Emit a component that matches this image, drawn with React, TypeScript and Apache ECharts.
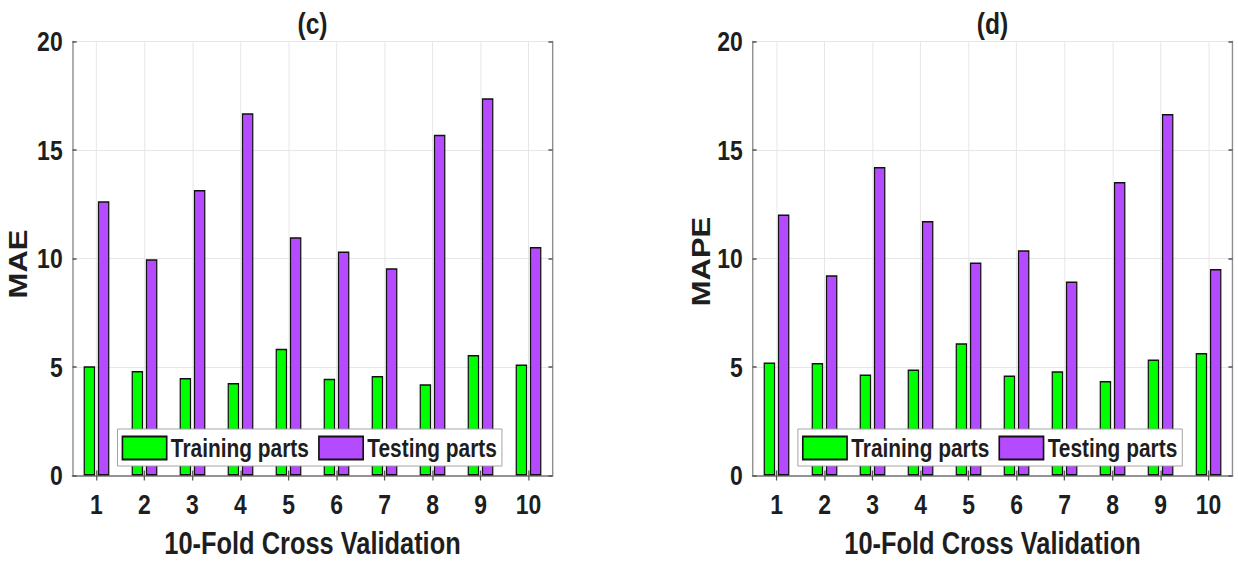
import React, { useEffect, useRef } from 'react';
import * as echarts from 'echarts';

// ---- data ----
const folds = ['1', '2', '3', '4', '5', '6', '7', '8', '9', '10'];
const yTicks = [0, 5, 10, 15, 20];
const seriesNames = ['Training parts', 'Testing parts'];
const panelTitles = ['(c)', '(d)'];
const panelYNames = ['MAE', 'MAPE'];
const xName = '10-Fold Cross Validation';

const maeTraining = [5.04, 4.81, 4.49, 4.26, 5.84, 4.46, 4.58, 4.2, 5.55, 5.12];
const maeTesting = [12.64, 9.97, 13.16, 16.69, 10.98, 10.32, 9.55, 15.7, 17.39, 10.53];
const mapeTraining = [5.21, 5.18, 4.66, 4.89, 6.09, 4.61, 4.8, 4.35, 5.35, 5.64];
const mapeTesting = [12.03, 9.23, 14.22, 11.73, 9.81, 10.38, 8.94, 13.53, 16.66, 9.52];

// ---- layout (the whole picture is rendered wide and squeezed horizontally) ----
const S = 0.82;
const W = Math.round(1238 / S);
const H = 561;
const FONT = '"Liberation Sans", Arial, Helvetica, sans-serif';
const TXT = '#1e1e1e';
const GREEN = '#00ff00';
const PURPLE = '#b44bff';
const FRAME = '#8e8e8e';
const GRIDC = '#e4e4e4';
const TICKC = '#555555';

const gridTop = 41.5;
const gridH = 434;
const gridW = 585.4;
const gridLefts = [88.4, 917.7];
const legendLefts = [143.3, 973];
const yNameGaps = [51, 47];
const yNamePad = [11, 6];

function buildOption() {
  const grids: any[] = [];
  const xAxes: any[] = [];
  const yAxes: any[] = [];
  const series: any[] = [];
  const titles: any[] = [];
  const legends: any[] = [];
  const data = [
    [maeTraining, maeTesting],
    [mapeTraining, mapeTesting],
  ];

  const axisLine = { show: true, lineStyle: { color: FRAME, width: 1.7 } };
  const axisTick = { show: true, inside: true, length: 5, lineStyle: { color: TICKC, width: 1.5 } };

  for (let i = 0; i < 2; i++) {
    grids.push({
      left: gridLefts[i],
      top: gridTop,
      width: gridW,
      height: gridH,
      containLabel: false,
      outerBoundsMode: 'none',
    });
    xAxes.push({
      type: 'category',
      gridIndex: i,
      data: folds,
      position: 'bottom',
      axisLine,
      axisTick: { ...axisTick, alignWithLabel: true },
      axisLabel: { margin: 15, fontSize: 28, fontWeight: 'bold', color: TXT, fontFamily: FONT },
      splitLine: { show: true, alignWithLabel: true, lineStyle: { color: GRIDC, width: 1 } },
      name: xName,
      nameLocation: 'middle',
      nameGap: 52,
      nameTextStyle: { fontSize: 31, fontWeight: 'bold', color: TXT, fontFamily: FONT },
    });
    xAxes.push({
      type: 'category',
      gridIndex: i,
      data: folds,
      position: 'top',
      axisLine,
      axisTick: { ...axisTick, alignWithLabel: true },
      axisLabel: { show: false },
      splitLine: { show: false },
    });
    yAxes.push({
      type: 'value',
      gridIndex: i,
      position: 'left',
      min: yTicks[0],
      max: yTicks[yTicks.length - 1],
      interval: yTicks[1] - yTicks[0],
      axisLine,
      axisTick,
      axisLabel: { margin: 12, fontSize: 28, fontWeight: 'bold', color: TXT, fontFamily: FONT },
      splitLine: { show: true, lineStyle: { color: GRIDC, width: 1 } },
      name: panelYNames[i],
      nameLocation: 'middle',
      nameGap: yNameGaps[i],
      nameTextStyle: {
        fontSize: 31,
        fontWeight: 'bold',
        color: TXT,
        fontFamily: FONT,
        padding: [0, yNamePad[i], 0, 0],
      },
    });
    yAxes.push({
      type: 'value',
      gridIndex: i,
      position: 'right',
      min: yTicks[0],
      max: yTicks[yTicks.length - 1],
      interval: yTicks[1] - yTicks[0],
      axisLine,
      axisTick,
      axisLabel: { show: false },
      splitLine: { show: false },
    });
    series.push({
      type: 'bar',
      name: seriesNames[0],
      xAxisIndex: 2 * i,
      yAxisIndex: 2 * i,
      data: data[i][0],
      barWidth: 14,
      barGap: '24%',
      itemStyle: { color: GREEN, borderColor: '#111', borderWidth: 1.5 },
    });
    series.push({
      type: 'bar',
      name: seriesNames[1],
      xAxisIndex: 2 * i,
      yAxisIndex: 2 * i,
      data: data[i][1],
      barWidth: 14,
      barGap: '24%',
      itemStyle: { color: PURPLE, borderColor: '#111', borderWidth: 1.5 },
    });
    titles.push({
      text: panelTitles[i],
      left: gridLefts[i] + gridW / 2,
      top: 9,
      textAlign: 'center',
      padding: 0,
      textStyle: { fontSize: 30, fontWeight: 'bold', color: TXT, fontFamily: FONT },
    });
    legends.push({
      data: seriesNames,
      left: legendLefts[i],
      top: 429,
      orient: 'horizontal',
      icon: 'rect',
      itemWidth: 54,
      itemHeight: 23,
      itemGap: 11,
      padding: [6, 6, 5, 5],
      borderColor: '#9a9a9a',
      borderWidth: 1,
      backgroundColor: '#ffffff',
      selectedMode: false,
      textStyle: { fontSize: 25.5, fontWeight: 'bold', lineHeight: 26, color: TXT, fontFamily: FONT },
    });
  }

  return {
    animation: false,
    backgroundColor: '#ffffff',
    textStyle: { fontFamily: FONT },
    title: titles,
    legend: legends,
    grid: grids,
    xAxis: xAxes,
    yAxis: yAxes,
    series,
  };
}

export default function App() {
  const ref = useRef<HTMLDivElement>(null);
  useEffect(() => {
    if (!ref.current) return;
    const chart = echarts.init(ref.current, null, { renderer: 'svg', width: W, height: H });
    chart.setOption(buildOption() as any);
    return () => chart.dispose();
  }, []);
  return (
    <div
      style={{
        position: 'absolute',
        left: 0,
        top: 0,
        width: 1238,
        height: 561,
        overflow: 'hidden',
        background: '#fff',
      }}
    >
      <div
        ref={ref}
        style={{ width: W, height: H, transform: `scaleX(${S})`, transformOrigin: '0 0' }}
      />
    </div>
  );
}
